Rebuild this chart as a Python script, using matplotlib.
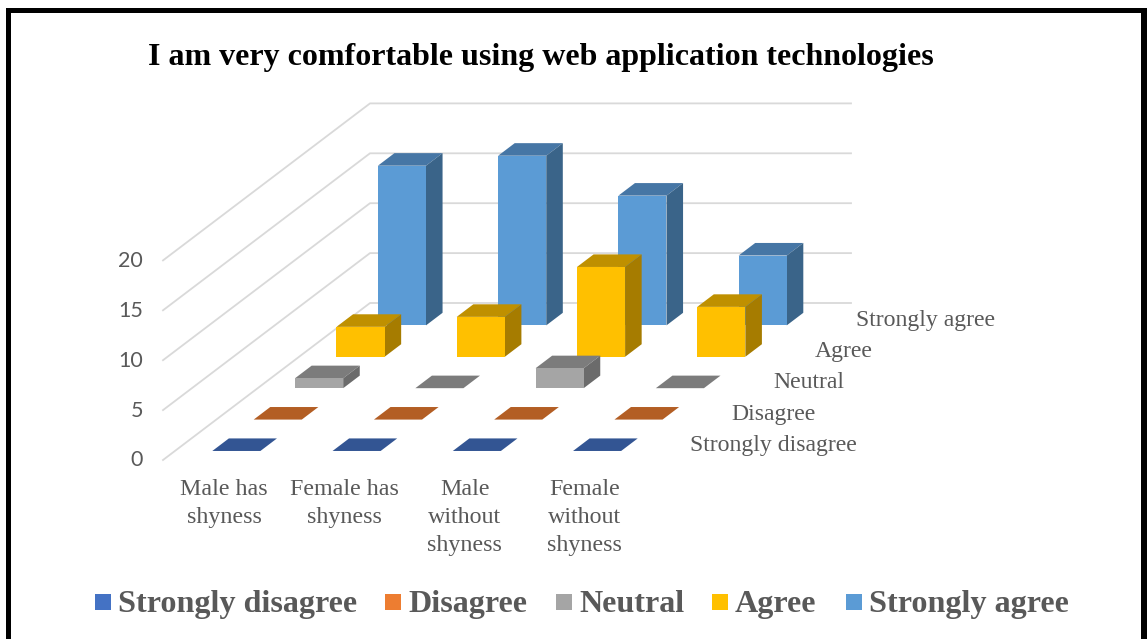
import matplotlib
matplotlib.use("Agg")
import matplotlib.pyplot as plt
from matplotlib.patches import Polygon, Rectangle

# Chart values
categories = ["Male has\nshyness", "Female has\nshyness", "Male\nwithout\nshyness", "Female\nwithout\nshyness"]
series_names = ["Strongly disagree", "Disagree", "Neutral", "Agree", "Strongly agree"]
strongly_disagree = [0, 0, 0, 0]
disagree = [0, 0, 0, 0]
neutral = [1, 0, 2, 0]
agree = [3, 4, 9, 5]
strongly_agree = [16, 17, 13, 7]
y_ticks = [0, 5, 10, 15, 20]
title = "I am very comfortable using web application technologies"

series_values = [strongly_disagree, disagree, neutral, agree, strongly_agree]

# (front, side, top) colours per series
colors = [
    ("#4472C4", "#2F528F", "#335593"),
    ("#ED7D31", "#AE5A21", "#B35E24"),
    ("#A5A5A5", "#6B6B6B", "#7C7C7C"),
    ("#FFC000", "#A67C00", "#BF9000"),
    ("#5B9BD5", "#3A6489", "#4676A5"),
]

# Oblique projection of the chart box, in pixels
ORIGIN_X, ORIGIN_Y = 163, 460
CAT_W = 120.25
DEPTH_X, DEPTH_Y = 41.4, -31.4
UNIT = 9.98
BAR_START = 0.3
BAR_W = 0.4
BAR_D0, BAR_D1 = 0.3, 0.7
BAR_SHIFT_X, BAR_DROP = 0.8, 0.4  # bars sit slightly off the walls

GREY = "#595959"
SERIF = "Liberation Serif"


def project(cat, depth, value):
    x = ORIGIN_X + cat * CAT_W + depth * DEPTH_X
    y = ORIGIN_Y + depth * DEPTH_Y - value * UNIT
    return (x, y)


def bar_point(cat, depth, value):
    x, y = project(cat, depth, value)
    return (x + BAR_SHIFT_X, y + BAR_DROP)


def draw_bar(ax, c, s, value, front, side, top, z):
    x0, x1 = c + BAR_START, c + BAR_START + BAR_W
    d0, d1 = s + BAR_D0, s + BAR_D1
    # top face is drawn even for a zero value
    ax.add_patch(Polygon([bar_point(x0, d0, value), bar_point(x1, d0, value),
                          bar_point(x1, d1, value), bar_point(x0, d1, value)],
                         fc=top, ec="none", zorder=z))
    if value > 0:
        ax.add_patch(Polygon([bar_point(x1, d0, 0), bar_point(x1, d1, 0),
                              bar_point(x1, d1, value), bar_point(x1, d0, value)],
                             fc=side, ec="none", zorder=z))
        ax.add_patch(Polygon([bar_point(x0, d0, 0), bar_point(x1, d0, 0),
                              bar_point(x1, d0, value), bar_point(x0, d0, value)],
                             fc=front, ec="none", zorder=z))


fig = plt.figure(figsize=(11.47, 6.39), dpi=100)
ax = fig.add_axes([0, 0, 1, 1])
ax.set_xlim(0, 1147)
ax.set_ylim(639, 0)
ax.axis("off")

# black frame, the bottom edge is cut off in the original
ax.add_patch(Rectangle((6, 8), 1141, 5, fc="black", ec="none", zorder=1))
ax.add_patch(Rectangle((6, 8), 5, 631, fc="black", ec="none", zorder=1))
ax.add_patch(Rectangle((1141, 8), 6, 631, fc="black", ec="none", zorder=1))

ax.text(541, 65, title, family=SERIF, weight="bold", fontsize=23, color="black",
        ha="center", va="baseline")

# walls
n_cat = len(categories)
n_ser = len(series_names)
for t in y_ticks:
    pts = [project(0, 0, t), project(0, n_ser, t), project(n_cat, n_ser, t)]
    ax.plot([p[0] for p in pts], [p[1] for p in pts], color="#D9D9D9", lw=1.3, zorder=2)
    ax.text(143, project(0, 0, t)[1] + 6.5, str(t), family="Lato", fontsize=15.5, color=GREY,
            ha="right", va="baseline")

# back row first so that the front rows cover it
for s in range(n_ser - 1, -1, -1):
    front, side, top = colors[s]
    z = 10 + (n_ser - s)
    for c, value in enumerate(series_values[s]):
        draw_bar(ax, c, s, value, front, side, top, z)

# category labels along the front edge
for c, label in enumerate(categories):
    x, y = project(c + 0.5, 0, 0)
    for i, line in enumerate(label.split("\n")):
        ax.text(x + 1, 495 + i * 28, line, family=SERIF, fontsize=17.3, color=GREY,
                ha="center", va="baseline")

# series labels down the right side
for s, name in enumerate(series_names):
    x, y = project(n_cat, s + 0.5, 0)
    ax.text(x + 25.5, y + 7, name, family=SERIF, fontsize=17.1, color=GREY,
            ha="left", va="baseline")

# legend
legend_x = [95, 385, 556, 712, 846]
for s, name in enumerate(series_names):
    ax.add_patch(Rectangle((legend_x[s], 594), 16, 16, fc=colors[s][0], ec="none"))
    ax.text(legend_x[s] + 23, 612, name, family=SERIF, weight="bold", fontsize=23.1, color=GREY,
            ha="left", va="baseline")

fig.savefig("out.png", dpi=100)
